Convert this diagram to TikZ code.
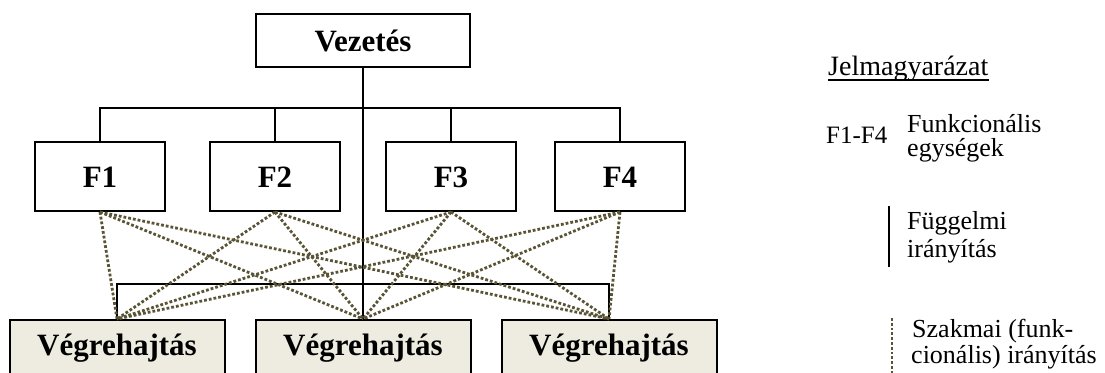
\documentclass[tikz,border=0pt]{standalone}
\usepackage{fontspec}
\setmainfont{Liberation Serif}
\usetikzlibrary{positioning}
\definecolor{szakmai}{RGB}{90,84,54}
\definecolor{vegrehajt}{RGB}{238,236,225}

\begin{document}
\begin{tikzpicture}[x=1pt,y=-1pt,
  doboz/.style={draw,line width=2pt,font=\fontsize{31}{31}\selectfont\bfseries,inner sep=0pt,text height=22pt,text depth=1pt},
  fuggelmi/.style={line width=2pt},
  szakmaivonal/.style={draw=szakmai,line width=2.8pt,dash pattern=on 2.8pt off 2pt},
  jelmagy/.style={font=\fontsize{26}{26}\selectfont,anchor=base west,inner sep=0pt}]
\clip (0,0) rectangle (1105,372);
% dobozok
\node[doboz,minimum width=214pt,minimum height=53pt] (vez) at (363,40.5) {Vezetés};
\foreach \n/\x in {1/100,2/275,3/451,4/620}
  \node[doboz,minimum width=130pt,minimum height=69pt] (F\n) at (\x,176.5) {F\n};
\foreach \n/\x in {1/117,2/363,3/609}
  \node[doboz,fill=vegrehajt,anchor=north,minimum width=215pt,inner ysep=10pt,text height=25pt,text depth=25pt] (V\n) at (\x,319) {Végrehajtás};
% fuggelmi iranyitas
\coordinate (sin1) at (363,108);
\coordinate (sin2) at (363,284);
\draw[fuggelmi] (vez.south) -- (V2.north);
\draw[fuggelmi] (F1.north) |- (sin1) -| (F4.north);
\draw[fuggelmi] (F2.north) -- (F2.north |- sin1);
\draw[fuggelmi] (F3.north) -- (F3.north |- sin1);
\draw[fuggelmi] (V1.north) |- (sin2) -| (V3.north);
% szakmai iranyitas
\foreach \f in {1,...,4}
  \foreach \v in {1,2,3}
    \draw[szakmaivonal] (F\f.south) -- (V\v.north);
% jelmagyarazat
\node[jelmagy,font=\fontsize{28}{28}\selectfont] (jelm) at (828,75) {Jelmagyarázat};
\draw[line width=1.5pt] ([yshift=-5pt]jelm.base west) -- ([yshift=-5pt]jelm.base east);
\node[jelmagy,font=\fontsize{25}{25}\selectfont] (fj) at (826,143) {F1-F4};
\node[jelmagy] (fk1) at (907,132) {Funkcionális};
\node[jelmagy] (fk2) at (907,156) {egységek};
\coordinate (fa) at (889,206);
\coordinate (fb) at (889,267);
\draw[fuggelmi] (fa) -- (fb);
\node[jelmagy] (fg1) at (907,229) {Függelmi};
\node[jelmagy] (fg2) at (907,257) {irányítás};
\coordinate (sa) at (892,318);
\coordinate (sb) at (892,375);
\draw[szakmaivonal,line width=2pt] (sa) -- (sb);
\node[jelmagy] (sz1) at (912,337) {Szakmai (funk-};
\node[jelmagy] (sz2) at (911,363) {cionális) irányítás};
\end{tikzpicture}
\end{document}
